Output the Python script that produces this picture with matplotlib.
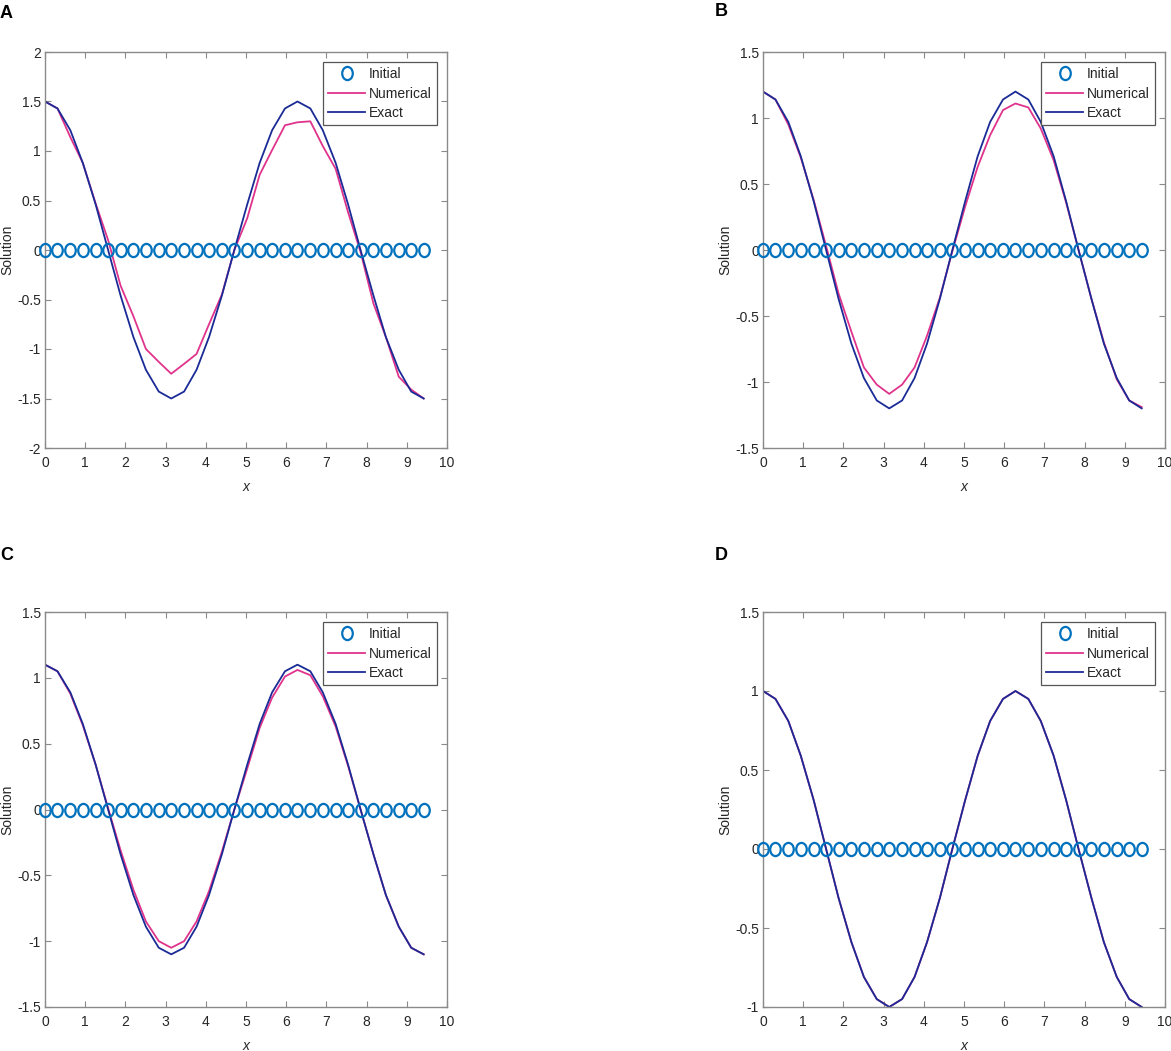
import numpy as np
import matplotlib
matplotlib.use('Agg')
import matplotlib.pyplot as plt
from matplotlib.path import Path
from matplotlib.transforms import Affine2D

plt.rcParams['font.family'] = ['Liberation Sans', 'DejaVu Sans']

# grid points (step pi/10 on [0, 3pi])
x = [0.00, 0.31, 0.63, 0.94, 1.26, 1.57, 1.88, 2.20, 2.51, 2.83, 3.14,
     3.46, 3.77, 4.08, 4.40, 4.71, 5.03, 5.34, 5.65, 5.97, 6.28,
     6.60, 6.91, 7.23, 7.54, 7.85, 8.17, 8.48, 8.80, 9.11, 9.42]

initial = [0, 0, 0, 0, 0, 0, 0, 0, 0, 0, 0, 0, 0, 0, 0, 0,
           0, 0, 0, 0, 0, 0, 0, 0, 0, 0, 0, 0, 0, 0, 0]

exact_a = [1.50, 1.43, 1.21, 0.88, 0.46, 0.00, -0.46, -0.88, -1.21, -1.43, -1.50,
           -1.43, -1.21, -0.88, -0.46, 0.00, 0.46, 0.88, 1.21, 1.43, 1.50,
           1.43, 1.21, 0.88, 0.46, 0.00, -0.46, -0.88, -1.21, -1.43, -1.50]
num_a = [1.50, 1.43, 1.14, 0.88, 0.47, 0.10, -0.36, -0.67, -1.00, -1.13, -1.25,
         -1.15, -1.05, -0.75, -0.45, 0.00, 0.32, 0.76, 1.01, 1.26, 1.29,
         1.30, 1.05, 0.82, 0.38, -0.02, -0.54, -0.88, -1.28, -1.41, -1.50]

exact_b = [1.20, 1.14, 0.97, 0.71, 0.37, 0.00, -0.37, -0.71, -0.97, -1.14, -1.20,
           -1.14, -0.97, -0.71, -0.37, 0.00, 0.37, 0.71, 0.97, 1.14, 1.20,
           1.14, 0.97, 0.71, 0.37, 0.00, -0.37, -0.71, -0.97, -1.14, -1.20]
num_b = [1.20, 1.14, 0.95, 0.70, 0.38, 0.03, -0.33, -0.62, -0.89, -1.02, -1.09,
         -1.02, -0.89, -0.65, -0.36, -0.01, 0.33, 0.63, 0.87, 1.06, 1.11,
         1.08, 0.92, 0.68, 0.36, 0.00, -0.37, -0.70, -0.98, -1.14, -1.19]

exact_c = [1.10, 1.05, 0.89, 0.65, 0.34, 0.00, -0.34, -0.65, -0.89, -1.05, -1.10,
           -1.05, -0.89, -0.65, -0.34, 0.00, 0.34, 0.65, 0.89, 1.05, 1.10,
           1.05, 0.89, 0.65, 0.34, 0.00, -0.34, -0.65, -0.89, -1.05, -1.10]
num_c = [1.10, 1.05, 0.88, 0.64, 0.34, 0.01, -0.31, -0.61, -0.85, -1.00, -1.05,
         -1.00, -0.85, -0.62, -0.32, 0.00, 0.31, 0.62, 0.85, 1.01, 1.06,
         1.02, 0.86, 0.63, 0.33, 0.00, -0.34, -0.65, -0.89, -1.05, -1.10]

exact_d = [1.00, 0.95, 0.81, 0.59, 0.31, 0.00, -0.31, -0.59, -0.81, -0.95, -1.00,
           -0.95, -0.81, -0.59, -0.31, 0.00, 0.31, 0.59, 0.81, 0.95, 1.00,
           0.95, 0.81, 0.59, 0.31, 0.00, -0.31, -0.59, -0.81, -0.95, -1.00]
num_d = [1.00, 0.95, 0.81, 0.59, 0.31, 0.00, -0.31, -0.59, -0.81, -0.95, -1.00,
         -0.95, -0.81, -0.59, -0.31, 0.00, 0.31, 0.59, 0.81, 0.95, 1.00,
         0.95, 0.81, 0.59, 0.31, 0.00, -0.31, -0.59, -0.81, -0.95, -1.00]

panels = ['A', 'B', 'C', 'D']
numerical = [num_a, num_b, num_c, num_d]
exact = [exact_a, exact_b, exact_c, exact_d]
ylims = [(-2, 2), (-1.5, 1.5), (-1.5, 1.5), (-1, 1.5)]

W, H = 1171, 1051
# axes boxes in pixels: left, top, right, bottom
boxes = [(45, 52, 447, 448), (763, 52, 1165, 448),
         (45, 612, 447, 1007), (763, 612, 1165, 1007)]
letter_pos = [(0, 13), (715, 12), (0, 555), (715, 555)]

c_init = '#0072BD'
c_num = '#E0338C'
c_exact = '#1A2B96'
c_axis = '#8A8A8A'
c_text = '#262626'

# MATLAB circles in the figure look slightly squeezed horizontally
oval = Path.unit_circle().transformed(Affine2D().scale(0.8, 1.0))

fig = plt.figure(figsize=(W / 100, H / 100), dpi=100)

for i in range(4):
    l, t, r, b = boxes[i]
    ax = fig.add_axes([l / W, 1 - b / H, (r - l) / W, (b - t) / H])
    ax.plot(x, initial, linestyle='none', marker=oval, markersize=9.5,
            markerfacecolor='none', markeredgecolor=c_init, markeredgewidth=1.6,
            clip_on=False, zorder=3, label='Initial')
    ax.plot(x, numerical[i], color=c_num, lw=1.3, label='Numerical')
    ax.plot(x, exact[i], color=c_exact, lw=1.3, label='Exact')

    ax.set_xlim(0, 10)
    ax.set_ylim(*ylims[i])
    ax.set_xticks(np.arange(0, 11, 1))
    yt = np.arange(ylims[i][0], ylims[i][1] + 0.01, 0.5)
    ax.set_yticks(yt)
    ax.set_yticklabels(['%g' % v for v in yt])
    ax.tick_params(direction='in', length=4, width=0.8, color=c_axis,
                   labelcolor=c_text, labelsize=10, top=True, right=True)
    ax.tick_params(axis='x', pad=6)
    ax.tick_params(axis='y', pad=3)
    for s in ax.spines.values():
        s.set_color(c_axis)
        s.set_linewidth(1.0)

    ax.set_xlabel('x', fontsize=10, style='italic', color=c_text)
    ax.set_ylabel('Solution', fontsize=10, color=c_text)
    ax.xaxis.set_label_coords(0.5, -32 / (b - t))
    ax.yaxis.set_label_coords(-31 / (r - l), 0.5)

    leg = ax.legend(loc='upper right', fontsize=10, numpoints=1,
                    handlelength=2.7, handletextpad=0.25, labelspacing=0.38,
                    borderpad=0.35, borderaxespad=0.75, fancybox=False,
                    framealpha=1, edgecolor='#555555')
    leg.get_frame().set_linewidth(0.9)
    for txt in leg.get_texts():
        txt.set_color(c_text)

    lx, ly = letter_pos[i]
    fig.text(lx / W, 1 - ly / H, panels[i], fontsize=13, fontweight='bold',
             ha='left', va='center')

fig.savefig('out.png', dpi=100)
